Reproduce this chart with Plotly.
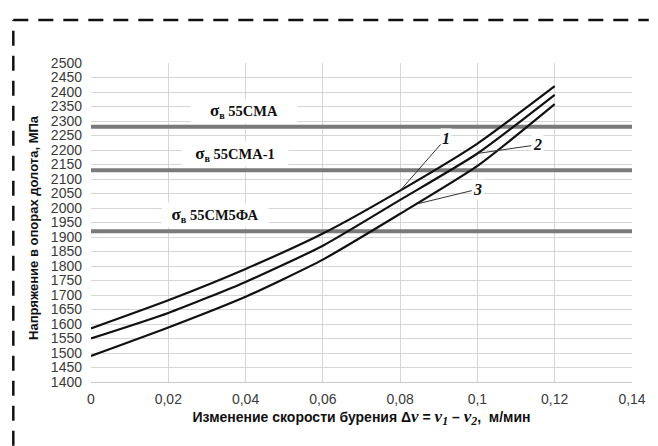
import plotly.graph_objects as go

# ---- data ----
dv = [0, 0.02, 0.04, 0.06, 0.08, 0.1, 0.12]
curve1 = [1585, 1682, 1790, 1912, 2060, 2222, 2420]
curve2 = [1550, 1638, 1745, 1870, 2028, 2188, 2390]
curve3 = [1490, 1588, 1694, 1822, 1980, 2145, 2358]
curve_names = ["1", "2", "3"]

limit_values = [2280, 2130, 1920]
limit_names = ["55СМА", "55СМА-1", "55СМ5ФА"]
limit_label_x = [0.0395, 0.0372, 0.0321]

x_ticks = [0, 0.02, 0.04, 0.06, 0.08, 0.1, 0.12, 0.14]
x_ticklabels = ["0", "0,02", "0,04", "0,06", "0,08", "0,1", "0,12", "0,14"]
x_grid = [0, 0.02, 0.04, 0.06, 0.08, 0.1, 0.12]
y_ticks = list(range(1400, 2501, 50))
y_ticklabels = [str(v) for v in y_ticks]

x_range = [0, 0.14]
y_range = [1400, 2500]

fig = go.Figure()

# limit lines
for val in limit_values:
    fig.add_trace(go.Scatter(x=x_range, y=[val, val], mode="lines",
                             line=dict(color="#7a7a7a", width=4),
                             showlegend=False, hoverinfo="skip"))

# curves
for ys in (curve1, curve2, curve3):
    fig.add_trace(go.Scatter(x=dv, y=ys, mode="lines",
                             line=dict(color="#111111", width=2.2, shape="spline", smoothing=0.6),
                             showlegend=False))

# limit labels
for name, val, lx in zip(limit_names, limit_values, limit_label_x):
    fig.add_annotation(x=lx, y=val, yshift=16, xref="x", yref="y",
                       text="<b><span style='font-size:17px'>σ</span><sub>в</sub> " + name + "</b>",
                       showarrow=False, bgcolor="white", width=104, height=22,
                       font=dict(family="Liberation Serif", size=14.5, color="#111"))

# curve labels with leader lines
curve_label_pos = [(0.0919, 2241), (0.1155, 2218), (0.1001, 2065)]
curve_head = [(dv[4], curve1[4]), (dv[5], curve2[5]), (0.0847, 2015)]
for name, (tx, ty), (hx, hy) in zip(curve_names, curve_label_pos, curve_head):
    fig.add_annotation(x=hx, y=hy, ax=tx, ay=ty, xref="x", yref="y", axref="x", ayref="y",
                       text="<i><b>" + name + "</b></i>", showarrow=True, arrowhead=0,
                       arrowwidth=1, arrowcolor="#333", bgcolor="white", borderpad=1,
                       font=dict(family="Liberation Sans", size=16, color="#111") if False else
                       dict(family="Liberation Serif", size=16, color="#111"))

# y axis title (placed as annotation for exact position)
fig.add_annotation(xref="paper", yref="paper", x=-0.1055, y=0.486, textangle=-90,
                   xanchor="center", yanchor="middle",
                   text="<b>Напряжение в опорах долота, МПа</b>", showarrow=False,
                   font=dict(family="Liberation Sans", size=13, color="#111"))

# dashed frame
frame = dict(color="#111", width=2.5, dash="15px,10px")
fig.add_shape(type="line", xref="paper", yref="paper", x0=-0.1436, x1=-0.1436,
              y0=-0.2, y1=1.135, line=frame)
fig.add_shape(type="line", xref="paper", yref="paper", x0=-0.1436, x1=1.031,
              y0=1.135, y1=1.135, line=frame)

nu = "<i><span style='font-family:Liberation Serif;font-size:17px'>ν</span></i>"
nu1 = "<i><span style='font-family:Liberation Serif;font-size:17px'>ν<sub>1</sub></span></i>"
nu2 = "<i><span style='font-family:Liberation Serif;font-size:17px'>ν<sub>2</sub></span></i>"

fig.update_layout(
    width=658, height=446,
    margin=dict(l=91, r=17, t=63, b=64),
    paper_bgcolor="white", plot_bgcolor="white",
    font=dict(family="Liberation Sans", color="#333"),
    xaxis=dict(range=x_range, tickvals=x_ticks, ticktext=x_ticklabels,
               showgrid=False,
               minor=dict(tickvals=x_grid, showgrid=True, gridcolor="#d6d6d6", gridwidth=1, ticks=""),
               showline=True, linecolor="#c8c8c8", zeroline=False,
               ticks="", ticklabelstandoff=4,
               tickfont=dict(size=14, color="#3a3a3a"),
               title=dict(text="<b>Изменение скорости бурения Δ" + nu + " = " + nu1 + " – " + nu2 + ",  м/мин</b>",
                          font=dict(size=14, color="#111"), standoff=2)),
    yaxis=dict(range=y_range, tickvals=y_ticks, ticktext=y_ticklabels,
               showgrid=True, gridcolor="#d6d6d6", gridwidth=1,
               showline=False, zeroline=False, ticks="", ticklabelstandoff=8,
               tickfont=dict(size=14, color="#3a3a3a")),
)

fig.write_html("out.html")
